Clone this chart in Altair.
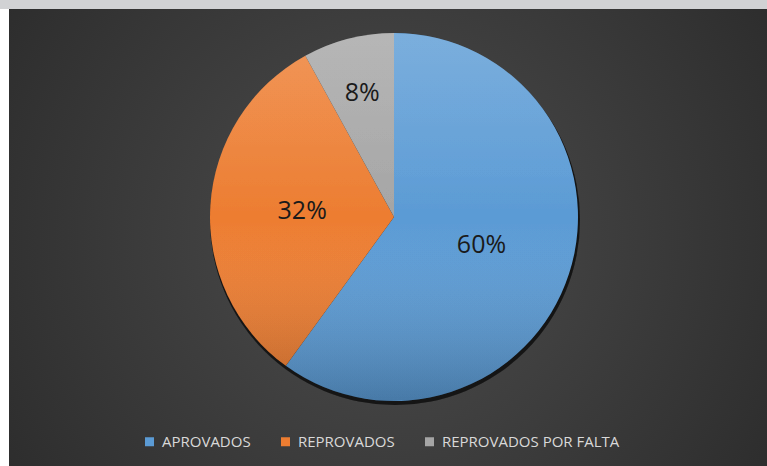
import altair as alt
import pandas as pd

categories = ["APROVADOS", "REPROVADOS", "REPROVADOS POR FALTA"]
values = [60, 32, 8]
labels = ["60%", "32%", "8%"]
colors = ["#5b9bd5", "#ed7d31", "#a5a5a5"]

df = pd.DataFrame({"cat": categories, "value": values, "label": labels, "ord": list(range(len(categories)))})

CX, CY, R = 394, 217, 184
W, H = 767, 466

bg_grad = alt.RadialGradient(
    gradient="radial", x1=0.5, y1=0.5, r1=0, x2=0.5, y2=0.5, r2=0.72,
    stops=[alt.GradientStop(offset=0, color="#4d4d4d"), alt.GradientStop(offset=1, color="#262626")],
)

base = alt.Chart(df)

top_band = base.mark_rect(color="#d1d2d4").encode(
    x=alt.value(0), x2=alt.value(W), y=alt.value(0), y2=alt.value(9)
)
bg = base.mark_rect(color=bg_grad).encode(
    x=alt.value(9), x2=alt.value(W), y=alt.value(9), y2=alt.value(H)
)

stacked = base.transform_joinaggregate(total="sum(value)").transform_window(
    cum="sum(value)", sort=[alt.SortField("ord")], frame=[None, 0]
).transform_calculate(
    t0="(datum.cum - datum.value) / datum.total * 2 * PI",
    t1="datum.cum / datum.total * 2 * PI",
    tm="(datum.cum - datum.value / 2) / datum.total * 2 * PI",
    lr="datum.value / datum.total < 0.1 ? 128 : 92",
)

shadow = base.mark_arc(color="#000000", opacity=0.3).encode(
    theta=alt.value(0), theta2=alt.value(6.2832), radius=alt.value(R + 1),
    x=alt.value(CX + 1), y=alt.value(CY + 3)
)

pie = stacked.mark_arc(stroke=None).encode(
    theta=alt.Theta("t0:Q", scale=None),
    theta2="t1:Q",
    radius=alt.value(R),
    x=alt.value(CX), y=alt.value(CY),
    color=alt.Color(
        "cat:N",
        scale=alt.Scale(domain=categories, range=colors),
        sort=categories,
        legend=alt.Legend(
            title=None, orient="none", direction="horizontal",
            legendX=142, legendY=434, padding=0,
            symbolType="square", symbolSize=81, symbolStrokeWidth=0,
            labelFont="Open Sans", labelFontSize=15, labelColor="#d9d9d9",
            labelOffset=5, columnPadding=27, labelLimit=0,
        ),
    ),
)

shade_grad = alt.LinearGradient(
    gradient="linear", x1=0, y1=0, x2=0, y2=1,
    stops=[alt.GradientStop(offset=0, color="rgba(255,255,255,0.07)"),
           alt.GradientStop(offset=0.5, color="rgba(255,255,255,0)"),
           alt.GradientStop(offset=1, color="rgba(0,0,0,0.08)")],
)
shade = base.mark_arc(color=shade_grad).encode(
    theta=alt.value(0), theta2=alt.value(6.2832), radius=alt.value(R),
    x=alt.value(CX), y=alt.value(CY)
)

text = stacked.mark_text(font="Open Sans", fontSize=25, color="#1a1a1a", baseline="middle", align="center").encode(
    theta=alt.Theta("tm:Q", scale=None),
    radius=alt.Radius("lr:Q", scale=None),
    x=alt.value(CX), y=alt.value(CY),
    text="label:N",
)

chart = alt.layer(top_band, bg, shadow, pie, shade, text).properties(
    width=W, height=H, padding=0, autosize=alt.AutoSizeParams(type="none"),
    background="#ffffff",
).configure_view(stroke=None)

chart.save("out.html", embed_options={"renderer": "svg", "actions": False})
